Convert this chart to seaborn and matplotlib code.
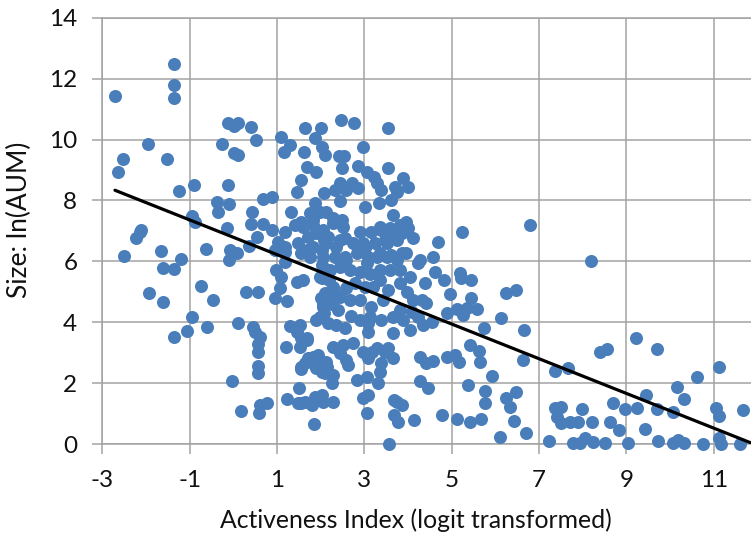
import matplotlib
matplotlib.use("Agg")
import matplotlib.pyplot as plt
import numpy as np
import pandas as pd
import seaborn as sns

# ---- data ----
activeness_index = [
    -2.71, -1.35, -1.35, -1.35, -1.95, -2.52, -2.65, -1.52, -1.24, -0.9,
    -0.12, -0.25, -0.12, 0.11, 0.02, 0.4, 0.51, 0.02, 0.1, -0.38,
    -0.36, -0.1, 0.68, 0.88, 0.43, -0.95, -0.88, -0.15, -2.11, 1.32,
    1.08, 1.16, 1.3, 1.62, 1.65, 1.68, 1.54, 1.45, -2.14, -2.23,
    -2.5, -1.66, -1.2, -1.6, -1.36, -0.63, -0.08, 0.08, -0.1, 0.36,
    0.55, 0.4, 0.67, -0.73, -1.92, -1.6, -0.46, 0.3, 0.57, -0.95,
    -1.05, -1.35, -0.6, 0.11, 0.44, 0.49, 0.61, 0.57, 0.56, 0.57,
    0.57, -0.03, 0.17, 0.59, 0.61, 0.78, 0.97, 1.1, 1.07, 0.95,
    1.22, 1.45, 1.18, 1.3, 1.52, 1.2, 1.52, 1.54, 1.5, 1.22,
    1.49, 1.83, 1.56, 1.41, 1.18, 0.88, 1.03, 1.18, 1.49, 1.71,
    1.9, 2.08, 2.02, 1.83, 1.56, 1.18, 0.95, 2.0, 2.46, 2.77,
    3.53, 2.97, 1.87, 2.04, 2.1, 2.42, 2.54, 2.48, 1.89, 2.86,
    3.05, 3.22, 3.53, 3.89, 4.0, 3.7, 3.39, 3.28, 2.44, 2.71,
    2.86, 2.59, 2.08, 2.44, 3.01, 3.33, 3.61, 3.65, 3.95, 1.87,
    1.75, 1.98, 2.29, 2.48, 5.24, 6.79, 3.74, 2.33, 2.13, 2.9,
    3.16, 3.39, 3.62, 3.85, 4.0, 4.12, 3.74, 3.47, 3.24, 3.01,
    2.74, 2.55, 2.36, 2.17, 4.27, 3.85, 3.62, 3.35, 3.09, 2.82,
    2.55, 2.32, 1.60, 1.83, 2.06, 2.29, 2.52, 3.35, 3.58, 3.81,
    3.51, 2.97, 2.44, 2.13, 1.68, 1.75, 2.06, 2.59, 3.05, 3.28,
    3.51, 3.74, 3.96, 3.81, 3.58, 3.35, 3.13, 2.9, 2.67, 2.44,
    2.21, 1.98, 1.6, 4.04, 3.35, 3.2, 4.69, 4.58, 4.23, 4.61,
    4.82, 5.2, 5.22, 5.45, 4.38, 4.96, 5.45, 6.25, 6.48, 4.88,
    5.11, 5.34, 5.57, 5.26, 6.12, 5.74, 6.66, 6.62, 5.41, 5.62,
    5.64, 5.91, 5.38, 5.77, 5.76, 6.25, 6.48, 6.33, 6.42, 6.71,
    6.1, 5.68, 5.41, 5.11, 4.78, 4.14, 3.76, 3.67, 3.74, 3.85,
    3.67, 3.57, 3.05, 2.97, 3.09, 1.84, 2.29, 2.06, 1.79, 1.56,
    2.02, 2.25, 2.82, 3.05, 3.32, 4.27, 4.46, 4.27, 4.42, 4.57,
    4.88, 5.07, 5.17, 3.66, 3.47, 3.28, 3.55, 3.39, 3.36, 2.97,
    3.17, 3.09, 2.74, 2.51, 2.29, 2.44, 2.59, 2.63, 1.83, 1.98,
    1.9, 1.64, 2.14, 2.29, 2.1, 1.56, 1.68, 2.9, 3.09, 3.09,
    3.39, 3.66, 4.04, 4.35, 4.54, 2.14, 2.06, 1.98, 2.17, 1.9,
    2.29, 2.44, 2.67, 2.59, 2.78, 3.01, 2.9, 3.16, 3.43, 3.55,
    3.81, 3.97, 4.12, 3.81, 3.89, 3.66, 4.08, 4.31, 4.42, 4.23,
    3.13, 1.68, 1.45, 2.02, 2.02, 1.56, 1.71, 1.87, 2.02, 2.13,
    1.94, 1.64, 1.87, 2.0, 2.05, 2.1, 2.08, 2.2, 2.3, 2.25,
    2.4, 2.35, 2.55, 2.7, 8.18, 9.21, 9.69, 8.39, 8.56, 7.66,
    7.37, 11.11, 10.62, 10.16, 10.32, 9.44, 8.69, 8.96, 9.24, 9.69,
    10.07, 11.06, 11.11, 11.67, 7.36, 7.51, 7.4, 7.51, 7.7, 7.89,
    7.98, 8.2, 8.62, 8.83, 7.22, 7.78, 7.93, 8.05, 8.24, 8.5,
    9.04, 9.42, 9.72, 10.07, 10.18, 10.32, 10.74, 11.11, 11.17, 11.59,
]

size_ln_aum = [
    11.44, 12.48, 11.79, 11.37, 9.84, 9.37, 8.95, 9.37, 8.32, 8.5,
    8.5, 9.87, 10.55, 10.55, 10.44, 10.4, 9.98, 9.55, 9.49, 7.96,
    7.61, 7.87, 8.05, 8.12, 7.62, 7.5, 7.3, 7.08, 7.03, 7.61,
    10.07, 9.6, 9.82, 9.6, 10.39, 9.1, 8.67, 8.29, 6.95, 6.75,
    6.17, 6.35, 6.08, 5.77, 5.74, 6.39, 6.37, 6.26, 6.06, 6.51,
    6.79, 7.22, 7.22, 5.19, 4.97, 4.65, 4.73, 5.0, 5.0, 4.18,
    3.71, 3.52, 3.83, 3.96, 3.85, 3.69, 3.5, 3.27, 3.03, 2.56,
    2.32, 2.08, 1.09, 1.03, 1.28, 1.34, 5.71, 5.49, 5.11, 4.78,
    4.7, 5.33, 5.99, 3.88, 3.91, 3.2, 3.2, 2.54, 1.83, 1.48,
    1.34, 7.36, 7.30, 7.19, 6.97, 7.03, 6.65, 6.48, 6.59, 6.81,
    6.92, 6.7, 6.37, 6.48, 6.26, 6.32, 6.37, 10.37, 10.64, 10.53,
    10.39, 9.76, 10.04, 9.74, 9.49, 9.46, 9.46, 9.05, 8.94, 9.13,
    8.94, 8.78, 9.07, 8.73, 8.45, 8.45, 8.34, 8.56, 8.56, 8.58,
    8.4, 8.34, 8.23, 7.98, 7.79, 7.92, 8.01, 7.52, 7.3, 7.9,
    7.58, 7.63, 7.41, 7.36, 6.95, 7.19, 8.29, 8.34, 7.63, 6.97,
    6.97, 7.03, 6.97, 6.92, 7.08, 6.75, 6.70, 6.70, 6.59, 6.43,
    6.59, 6.75, 6.48, 6.81, 6.04, 6.26, 6.21, 6.26, 6.15, 6.26,
    6.15, 6.15, 7.14, 7.19, 7.03, 7.25, 7.14, 7.14, 7.08, 7.19,
    6.59, 6.59, 6.7, 6.59, 6.37, 6.15, 6.15, 6.04, 5.93, 6.15,
    6.15, 6.04, 6.26, 5.71, 5.71, 5.71, 5.6, 5.66, 5.71, 5.82,
    5.71, 5.5, 5.39, 5.5, 5.39, 5.17, 6.64, 6.13, 5.95, 5.66,
    5.39, 5.63, 5.44, 5.39, 5.28, 4.93, 4.78, 4.97, 5.06, 4.29,
    4.42, 4.46, 4.42, 4.24, 4.13, 3.8, 3.74, 2.76, 3.25, 3.06,
    2.7, 2.23, 1.94, 1.75, 1.34, 1.5, 1.7, 1.22, 0.76, 0.35,
    0.22, 0.82, 0.71, 0.82, 0.95, 0.79, 0.73, 0.95, 1.39, 1.28,
    1.45, 0.0, 1.01, 1.5, 1.61, 0.66, 1.39, 1.39, 1.28, 1.36,
    1.61, 1.99, 2.1, 2.21, 1.99, 2.08, 1.83, 2.87, 2.65, 2.74,
    2.87, 2.92, 2.7, 2.81, 3.03, 3.14, 3.14, 2.65, 2.37, 3.03,
    3.03, 2.81, 3.31, 3.25, 3.2, 2.98, 2.76, 2.59, 2.87, 2.7,
    2.49, 2.65, 2.54, 2.27, 2.32, 3.47, 3.47, 4.07, 3.96, 3.69,
    4.07, 3.64, 3.74, 3.91, 4.02, 4.84, 4.51, 4.18, 3.96, 4.07,
    5.17, 4.84, 4.73, 5.11, 5.28, 5.17, 4.73, 4.51, 4.73, 5.06,
    5.28, 5.0, 4.73, 4.4, 4.07, 4.18, 4.34, 4.73, 4.62, 4.18,
    4.18, 3.41, 3.69, 5.88, 5.44, 2.48, 2.81, 2.6, 2.38, 2.7,
    2.92, 1.39, 1.55, 4.8, 4.6, 4.95, 4.3, 5.4, 5.0, 4.6,
    4.4, 3.9, 3.8, 4.2, 6.01, 3.49, 3.11, 3.03, 3.11, 2.51,
    2.41, 2.54, 2.21, 1.86, 1.48, 1.61, 1.34, 1.14, 1.17, 1.14,
    1.06, 1.19, 0.93, 1.12, 1.19, 1.23, 0.9, 0.68, 0.73, 0.73,
    1.14, 0.73, 0.71, 0.46, 0.11, 0.04, 0.04, 0.19, 0.08, 0.04,
    0.04, 0.49, 0.11, 0.04, 0.13, 0.04, 0.0, 0.19, 0.0, 0.0,
]

# linear trendline (as shown in the reference)
trend_intercept = 6.79
trend_slope = -0.570
trend_x = [-2.71, 12.0]

x_ticks = [-3, -1, 1, 3, 5, 7, 9, 11]
y_ticks = [0, 2, 4, 6, 8, 10, 12, 14]
x_label = "Activeness Index (logit transformed)"
y_label = "Size: ln(AUM)"

assert len(activeness_index) == len(size_ln_aum)

# ---- styling ----
sns.set_theme(style="white")
plt.rcParams["font.family"] = ["Lato", "DejaVu Sans"]

GRID = "#A3A3A3"
DOT = "#4A7EBB"

fig = plt.figure(figsize=(7.51, 5.43), dpi=100)
ax = fig.add_axes([0.1362, 0.1823, 0.8638, 0.785])

df = pd.DataFrame({"x": activeness_index, "y": size_ln_aum})
sns.scatterplot(data=df, x="x", y="y", ax=ax, s=88, color=DOT,
                edgecolor=DOT, linewidth=0, clip_on=False, zorder=3)

trend = pd.DataFrame({"x": trend_x,
                      "y": [trend_intercept + trend_slope * v for v in trend_x]})
sns.lineplot(data=trend, x="x", y="y", ax=ax, color="black", linewidth=2.3,
             zorder=4)

ax.set_xlim(-3, 11.85)
ax.set_ylim(0, 14)
ax.set_xticks(x_ticks)
ax.set_yticks(y_ticks)
ax.set_xticklabels([str(t) for t in x_ticks])
ax.set_yticklabels([str(t) for t in y_ticks])

ax.grid(True, color=GRID, linewidth=1.1)
ax.set_axisbelow(True)
for side in ["left", "bottom", "top"]:
    ax.spines[side].set_visible(True)
    ax.spines[side].set_color(GRID)
    ax.spines[side].set_linewidth(1.1)
ax.spines["right"].set_visible(False)

ax.tick_params(axis="x", which="major", direction="out", length=7, width=1.1,
               color=GRID, labelsize=17.5, labelcolor="#111111", pad=12, bottom=True)
ax.tick_params(axis="y", which="major", direction="out", length=7.5, width=1.1,
               color=GRID, labelsize=17.5, labelcolor="#111111", pad=10.5, left=True)

ax.set_xlabel(x_label, fontsize=17.8, color="#111111", va="top")
ax.xaxis.set_label_coords(0.4836, -0.152)
ax.set_ylabel(y_label, fontsize=19, color="#111111", va="center")
ax.yaxis.set_label_coords(-0.127, 0.525)

fig.savefig("out.png", dpi=100)
